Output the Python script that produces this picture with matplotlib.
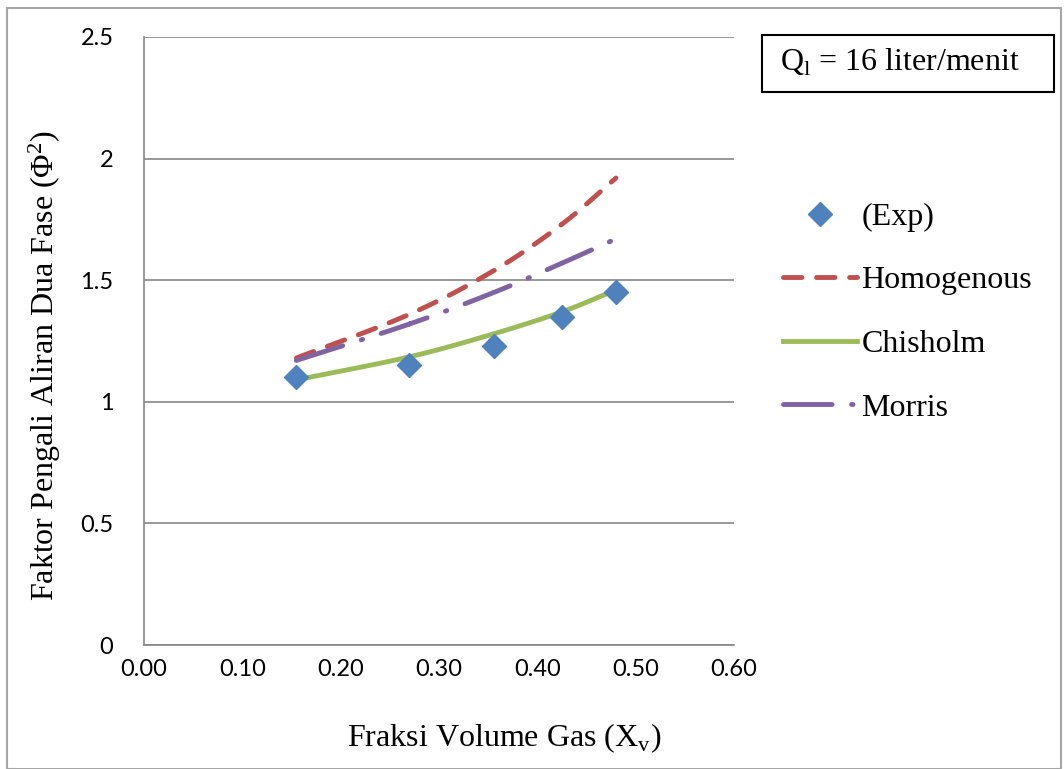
import numpy as np
import matplotlib.pyplot as plt
from matplotlib.patches import Rectangle

# values
xv = [0.155, 0.27, 0.356, 0.425, 0.48]
phi_exp = [1.10, 1.15, 1.23, 1.35, 1.45]
phi_homogenous = [1.18, 1.36, 1.54, 1.73, 1.92]
phi_chisholm = [1.09, 1.185, 1.28, 1.37, 1.46]
phi_morris = [1.17, 1.32, 1.45, 1.57, 1.67]

x_ticks = [0.0, 0.1, 0.2, 0.3, 0.4, 0.5, 0.6]
y_ticks = [0, 0.5, 1, 1.5, 2, 2.5]
y_ticklabels = ['0', '0.5', '1', '1.5', '2', '2.5']


def smooth(x, y, n=30):
    # catmull-rom through the points, like excel's smoothed line
    x = np.asarray(x, float)
    y = np.asarray(y, float)
    px = np.concatenate([[2*x[0]-x[1]], x, [2*x[-1]-x[-2]]])
    py = np.concatenate([[2*y[0]-y[1]], y, [2*y[-1]-y[-2]]])
    xs, ys = [], []
    t = np.linspace(0, 1, n)
    for i in range(1, len(px)-2):
        for p, out in ((px, xs), (py, ys)):
            p0, p1, p2, p3 = p[i-1], p[i], p[i+1], p[i+2]
            out.extend(0.5*((2*p1) + (-p0+p2)*t + (2*p0-5*p1+4*p2-p3)*t**2
                            + (-p0+3*p1-3*p2+p3)*t**3))
    return np.array(xs), np.array(ys)


serif = 'Liberation Serif'
sans = 'Lato'

fig = plt.figure(figsize=(10.64, 7.69), dpi=100)
ax = fig.add_axes([0.1353, 0.1612, 0.5545, 0.7907])

sx, sy = smooth(xv, phi_homogenous)
ax.plot(sx, sy, color='#c0504d', lw=3.5, dashes=(3.8, 3.0), solid_capstyle='round',
        dash_capstyle='round', label='Homogenous', zorder=3)
sx, sy = smooth(xv, phi_chisholm)
ax.plot(sx, sy, color='#9bbb59', lw=3.5, label='Chisholm', zorder=3)
sx, sy = smooth(xv, phi_morris)
ax.plot(sx, sy, color='#8064a2', lw=3.5, dashes=(10, 4, 0.3, 4), dash_capstyle='round',
        label='Morris', zorder=3)
ax.plot(xv, phi_exp, 'D', color='#4f81bd', ms=12, mec='#4f81bd', label='(Exp)', zorder=4)

ax.set_xlim(0, 0.6)
ax.set_ylim(0, 2.5)
ax.set_xticks(x_ticks)
ax.set_xticklabels(['%.2f' % v for v in x_ticks], fontname=sans, fontsize=17)
ax.set_yticks(y_ticks)
ax.set_yticklabels(y_ticklabels, fontname=sans, fontsize=17)
ax.tick_params(length=0, pad=10)
ax.tick_params(axis='y', pad=22)
ax.grid(axis='y', color='#868686', lw=1.2)
for s in ['top', 'right']:
    ax.spines[s].set_visible(False)
for s in ['left', 'bottom']:
    ax.spines[s].set_color('#868686')
    ax.spines[s].set_linewidth(1.2)

ax.set_xlabel('Fraksi Volume Gas (X$_\\mathregular{v}$)', fontname=serif, fontsize=23)
ax.xaxis.set_label_coords(0.61, -0.125)
ax.set_ylabel('Faktor Pengali Aliran Dua Fase ($\\mathregular{\\Phi^2}$)', fontname=serif,
              fontsize=23)
ax.yaxis.set_label_coords(-0.137, 0.46)

handles, labels = ax.get_legend_handles_labels()
order = [3, 0, 1, 2]
leg = fig.legend([handles[i] for i in order], [labels[i] for i in order],
                 loc='upper left', bbox_to_anchor=(0.709, 0.774), frameon=False,
                 prop={'family': serif, 'size': 23}, handlelength=2.3,
                 handletextpad=0.15, labelspacing=1.07)

fig.text(0.733, 0.919, 'Q$_\\mathregular{l}$ = 16 liter/menit', fontname=serif, fontsize=23,
         ha='left', va='center')
fig.patches.append(Rectangle((0.716, 0.881), 0.275, 0.074, transform=fig.transFigure,
                             fill=False, ec='black', lw=1.5))
fig.patches.append(Rectangle((0.007, 0.0), 0.99, 0.99, transform=fig.transFigure,
                             fill=False, ec='#a6a6a6', lw=1.5))

fig.savefig('out.png', dpi=100)
